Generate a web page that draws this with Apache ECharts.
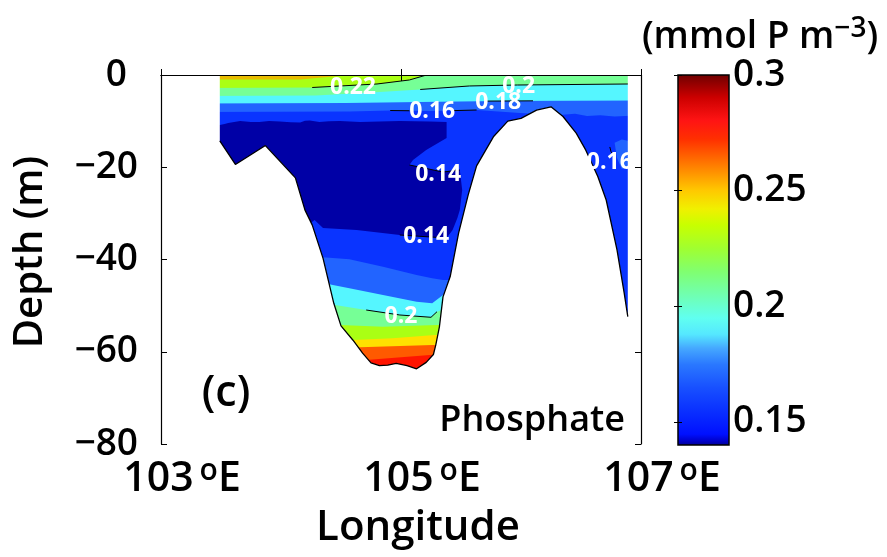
<!DOCTYPE html>
<html><head><meta charset="utf-8">
<script src="https://cdn.jsdelivr.net/npm/echarts@6/dist/echarts.min.js"></script>
<style>html,body{margin:0;padding:0;background:#fff}#c{width:887px;height:557px}</style>
</head><body><div id="c"></div>
<script>
// ---------- data (longitude °E, depth m) ----------
const xTickValues = [103, 105, 107];
const yTickValues = [0, -20, -40, -60, -80];
const colorbarTicks = [0.15, 0.2, 0.25, 0.3];
const colorbarRange = [0.14, 0.30];

const bathymetry = [[103.49,0],[103.49,-14.3],[103.62,-19.4],[103.87,-15.3],[104.12,-22.3],[104.20,-29.3],[104.26,-32.5],[104.35,-39.7],[104.44,-49.5],[104.50,-54.4],[104.60,-57.5],[104.68,-60.3],[104.75,-62.4],[104.82,-63.0],[104.89,-62.9],[104.96,-62.5],[105.05,-63.0],[105.13,-63.7],[105.21,-62.3],[105.27,-60.6],[105.29,-58.5],[105.32,-54.6],[105.35,-48.1],[105.41,-43.7],[105.48,-34.3],[105.56,-26.0],[105.63,-19.7],[105.77,-13.4],[105.89,-10.0],[106.00,-9.4],[106.13,-7.6],[106.25,-6.9],[106.35,-9.0],[106.46,-12.6],[106.54,-16.3],[106.64,-22.0],[106.71,-27.1],[106.80,-37.9],[106.86,-47.3],[106.89,-52.4],[106.89,0]];

// surface contours (upper boundary of each concentration band)
const surf24 = [[103.3,-0.98],[104.16,-0.98],[104.57,0]];
const surf22 = [[103.3,-2.82],[104.26,-2.71],[104.80,-1.95],[105.07,-1.08],[105.20,0]];
const surf20 = [[103.3,-4.55],[104.29,-4.44],[104.82,-3.69],[105.16,-3.14],[105.57,-2.38],[105.97,-2.17],[107.0,-1.95]];
const surf18 = [[103.3,-6.18],[104.54,-6.07],[105.16,-5.85],[105.82,-5.64],[107.0,-5.53]];
const surf16 = [[103.3,-8.02],[104.57,-7.91],[104.91,-7.70],[105.26,-7.80],[105.63,-7.59],[105.99,-8.24],[106.32,-8.67],[106.45,-8.4],[106.55,-8.9],[106.66,-8.7],[106.78,-9.0],[107.0,-8.7]];
// low-phosphate core (< 0.14)
const core14 = [[103.3,-10.84],[103.49,-10.84],[103.53,-10.6],[103.56,-10.41],[103.66,-9.97],[103.75,-10.2],[103.82,-10.19],[103.9,-9.95],[103.99,-10.08],[104.08,-10.25],[104.16,-10.30],[104.20,-9.9],[104.24,-9.86],[104.32,-10.19],[104.40,-10.0],[104.49,-9.97],[104.66,-10.19],[104.82,-10.08],[104.99,-9.97],[105.24,-10.08],[105.38,-10.19],[105.38,-13.66],[105.21,-16.26],[105.10,-18.43],[105.07,-19.51],[105.35,-21.03],[105.49,-20.60],[105.51,-24.93],[105.49,-29.27],[105.47,-31.00],[105.43,-33.60],[105.38,-35.34],[104.99,-34.69],[104.63,-33.60],[104.35,-33.17],[104.28,-31.44],[104.2,-33],[103.3,-34]];
// deep contours (upper boundary of each band in the trough)
const deep16 = [[104.2,-39.52],[104.35,-39.52],[104.57,-39.96],[104.85,-41.56],[105.13,-43.36],[105.26,-44.08],[105.35,-44.44],[105.5,-44.44]];
const deep18 = [[104.2,-45.31],[104.39,-45.31],[104.57,-46.24],[104.85,-47.70],[105.13,-49.15],[105.26,-49.50],[105.35,-47.70],[105.5,-47.70]];
const deep20 = [[104.2,-49.86],[104.45,-49.86],[104.71,-50.95],[104.99,-52.03],[105.25,-52.53],[105.30,-51.32],[105.34,-50.95],[105.5,-50.95]];
const deep22 = [[104.2,-54.20],[104.49,-54.20],[104.85,-54.57],[105.30,-54.20],[105.5,-54.20]];
const deep24 = [[104.2,-57.45],[104.60,-57.45],[104.93,-57.08],[105.28,-56.37],[105.5,-56.37]];
const deep26 = [[104.2,-59.03],[104.66,-59.03],[105.26,-58.54],[105.5,-58.54]];
const deep28 = [[104.2,-61.79],[104.71,-61.79],[105.24,-60.70],[105.5,-60.70]];
const patch16 = [[106.78,-14.7],[106.84,-14.0],[106.90,-14.3],[106.90,-19.8],[106.84,-20.4],[106.80,-18.0]];

// drawn contour lines
const line22 = [[104.26,-2.71],[104.80,-1.95],[105.07,-1.08],[105.20,-0.1]];
const line20 = [[105.16,-3.14],[105.57,-2.38],[105.97,-2.17],[106.89,-1.95]];
const line18 = [[105.70,-5.66],[106.10,-5.60]];
const line16a = [[104.91,-7.70],[105.07,-7.75]];
const line16b = [[105.44,-7.72],[105.63,-7.59]];
const line16r = [[106.74,-15.6],[106.75,-16.6],[106.77,-17.4]];
const line14a = [[105.07,-19.51],[105.35,-21.03],[105.49,-20.60]];
const line14b = [[104.99,-34.69],[105.38,-35.34]];
const line20b = [[104.71,-50.95],[104.99,-52.03],[105.25,-52.53],[105.30,-51.32]];

// contour labels
const labelText  = ['0.22','0.2','0.18','0.16','0.14','0.14','0.2','0.16'];
const labelLon   = [104.60,105.98,105.81,105.26,105.31,105.21,105.00,106.74];
const labelDepth = [-2.6,-2.38,-5.96,-7.9,-21.6,-35.1,-52.25,-18.97];

// ---------- styles ----------
const FONT = "'Open Sans', 'Noto Sans', sans-serif";
const FW = 600;
const C = {
  navy:'#0000A6', b14:'#0A34FF', b16:'#2264FF', b18:'#55F6FF', b20:'#76FF96',
  b22:'#AAFF14', b24s:'#E8BC00', b24:'#FFE000', b26:'#FF5A00', b28:'#FF1400'
};
const colorbarStops = [
  [0.140,'#00008C'],[0.142,'#0000C8'],[0.145,'#0010FF'],[0.155,'#0A30FF'],[0.165,'#1850FF'],
  [0.175,'#2A78FF'],[0.182,'#45A8FF'],[0.188,'#55E8FF'],[0.195,'#60FFF0'],[0.205,'#70FFB0'],
  [0.215,'#80FF70'],[0.225,'#A0FF30'],[0.235,'#C8FF00'],[0.242,'#F0F000'],[0.250,'#FFC800'],
  [0.258,'#FF9000'],[0.265,'#FF6000'],[0.272,'#FF3000'],[0.280,'#FF1414'],[0.290,'#CC0000'],[0.300,'#6E0000']
];

function closeTo(contour, d) {
  const f = contour[0], l = contour[contour.length - 1];
  return contour.concat([[l[0], d], [f[0], d]]);
}
function polySeries(pts, color, z) {
  return {
    type:'custom', coordinateSystem:'cartesian2d', xAxisIndex:0, yAxisIndex:0, clip:true, z:z, silent:true,
    data:[pts[0]],
    renderItem:(params, api) => ({ type:'polygon', shape:{ points: pts.map(p => api.coord(p)) }, style:{ fill: color } })
  };
}
function lineSeries(pts, z) {
  return { type:'line', xAxisIndex:0, yAxisIndex:0, data:pts, symbol:'none', silent:true, clip:true, z:z,
    lineStyle:{ color:'#000', width:1 } };
}

const fullRect = [[103,1],[107,1],[107,-80],[103,-80]];
const mask = [[103,1]].concat(bathymetry, [[107,0],[107,1],[107,-80],[103,-80]]);
const seafloorLine = bathymetry.slice(1, bathymetry.length - 1);

const series = [
  polySeries(fullRect, C.b14, 1),
  polySeries(closeTo(surf16, 1), C.b16, 2),
  polySeries(closeTo(surf18, 1), C.b18, 3),
  polySeries(closeTo(surf20, 1), C.b20, 4),
  polySeries(closeTo(surf22, 1), C.b22, 5),
  polySeries(closeTo(surf24, 1), C.b24s, 6),
  polySeries(closeTo(deep16, -75), C.b16, 2),
  polySeries(closeTo(deep18, -75), C.b18, 3),
  polySeries(closeTo(deep20, -75), C.b20, 4),
  polySeries(closeTo(deep22, -75), C.b22, 5),
  polySeries(closeTo(deep24, -75), C.b24, 6),
  polySeries(closeTo(deep26, -75), C.b26, 7),
  polySeries(closeTo(deep28, -75), C.b28, 8),
  polySeries(core14, C.navy, 9),
  polySeries(patch16, C.b16, 9),
  polySeries(mask, '#FFFFFF', 20),
  { type:'line', xAxisIndex:0, yAxisIndex:0, data:seafloorLine, symbol:'none', silent:true, clip:true, z:21,
    lineStyle:{ color:'#000', width:1.3 } },
  lineSeries(line22, 22), lineSeries(line20, 22), lineSeries(line18, 22), lineSeries(line16a, 22),
  lineSeries(line16b, 22), lineSeries(line16r, 22), lineSeries(line14a, 22), lineSeries(line14b, 22),
  lineSeries(line20b, 22),
  {
    type:'custom', coordinateSystem:'cartesian2d', xAxisIndex:0, yAxisIndex:0, clip:true, z:23, silent:true,
    data: labelLon.map((v, i) => [v, labelDepth[i]]),
    renderItem:(params, api) => {
      const p = api.coord([api.value(0), api.value(1)]);
      return { type:'text', x:p[0], y:p[1],
        style:{ text: labelText[params.dataIndex], fill:'#fff', fontSize:23, fontWeight:'bold', fontFamily:FONT,
          align:'center', verticalAlign:'middle' } };
    }
  },
  {
    type:'custom', coordinateSystem:'cartesian2d', xAxisIndex:2, yAxisIndex:2, z:5, silent:true,
    data:[[0, colorbarRange[1]]],
    renderItem:(params, api) => {
      const a = api.coord([0, colorbarRange[1]]), b = api.coord([1, colorbarRange[0]]);
      const span = colorbarRange[1] - colorbarRange[0];
      const stops = colorbarStops.map(s => ({ offset:(s[0] - colorbarRange[0]) / span, color:s[1] }));
      return { type:'rect', shape:{ x:a[0], y:a[1], width:b[0]-a[0], height:b[1]-a[1] },
        style:{ fill: new echarts.graphic.LinearGradient(0, 1, 0, 0, stops), stroke:'#000', lineWidth:1.5 } };
    }
  }
];

const axisLineBlack = { show:true, lineStyle:{ color:'#000', width:1.2 } };
const tickIn = { show:true, inside:true, length:6, lineStyle:{ color:'#000', width:1 } };

const option = {
  animation:false,
  backgroundColor:'#fff',
  grid:[
    { left:161, top:75, width:480, height:369 },
    { left:678, top:75, width:51, height:370 }
  ],
  xAxis:[
    { type:'value', gridIndex:0, min:103, max:107, position:'bottom', z:30,
      axisLine:axisLineBlack, splitLine:{show:false},
      axisTick:Object.assign({ customValues:xTickValues }, tickIn),
      axisLabel:{ customValues:xTickValues, margin:12, padding:[0,0,0,42],
        formatter: v => '{n|' + v + '}{g|}{s|o}{n|E}',
        rich:{
          n:{ fontSize:41, fontWeight:FW, fontFamily:FONT, color:'#000', lineHeight:46 },
          g:{ width:6 },
          s:{ fontSize:30, fontWeight:FW, fontFamily:FONT, color:'#000', lineHeight:24, verticalAlign:'top' }
        } } },
    { type:'value', gridIndex:0, min:103, max:107, position:'top', z:30,
      axisLine:axisLineBlack, splitLine:{show:false},
      axisTick:Object.assign({ customValues:xTickValues }, tickIn), axisLabel:{show:false} },
    { type:'value', gridIndex:1, min:0, max:1, show:false }
  ],
  yAxis:[
    { type:'value', gridIndex:0, min:-80, max:0, interval:20, position:'left', z:30,
      axisLine:axisLineBlack, splitLine:{show:false}, axisTick:tickIn,
      axisLabel:{ margin:23,
        formatter: v => v === 0 ? '{z|0}' : '{n|' + (v < 0 ? '\u2212' + Math.abs(v) : v) + '}',
        rich:{
          n:{ fontSize:37, fontWeight:FW, fontFamily:FONT, color:'#000' },
          z:{ fontSize:37, fontWeight:FW, fontFamily:FONT, color:'#000', padding:[0,11,0,0] }
        } } },
    { type:'value', gridIndex:0, min:-80, max:0, interval:20, position:'right', z:30,
      axisLine:axisLineBlack, splitLine:{show:false}, axisTick:tickIn, axisLabel:{show:false} },
    { type:'value', gridIndex:1, min:colorbarRange[0], max:colorbarRange[1], position:'right', z:30,
      axisLine:{show:false}, splitLine:{show:false},
      axisTick:{ show:true, inside:true, length:4, customValues:colorbarTicks, lineStyle:{color:'#000'} },
      axisLabel:{ customValues:colorbarTicks, margin:4, fontSize:37, fontWeight:FW, fontFamily:FONT, color:'#000' } },
    { type:'value', gridIndex:1, min:colorbarRange[0], max:colorbarRange[1], position:'left', z:30,
      axisLine:{show:false}, splitLine:{show:false},
      axisTick:{ show:true, inside:true, length:4, customValues:colorbarTicks, lineStyle:{color:'#000'} },
      axisLabel:{show:false} }
  ],
  series: series,
  graphic:[
    { type:'text', x:31, y:252, rotation:Math.PI/2, z:50,
      style:{ text:'Depth (m)', fontSize:40, fontWeight:FW, fontFamily:FONT, fill:'#000', align:'center', verticalAlign:'middle' } },
    { type:'text', x:418, y:528, z:50,
      style:{ text:'Longitude', fontSize:42, fontWeight:FW, fontFamily:FONT, fill:'#000', align:'center', verticalAlign:'middle' } },
    { type:'text', x:226, y:394, z:50,
      style:{ text:'(c)', fontSize:43, fontWeight:FW, fontFamily:FONT, fill:'#000', align:'center', verticalAlign:'middle' } },
    { type:'text', x:625, y:421, z:50,
      style:{ text:'Phosphate', fontSize:36, fontWeight:FW, fontFamily:FONT, fill:'#000', align:'right', verticalAlign:'middle' } },
    { type:'text', x:760, y:37, z:50,
      style:{ text:'{a|(mmol P m}{s|\u22123}{a|)}', align:'center', verticalAlign:'middle',
        rich:{
          a:{ fontSize:37, fontWeight:FW, fontFamily:FONT, fill:'#000', lineHeight:44 },
          s:{ fontSize:28, fontWeight:FW, fontFamily:FONT, fill:'#000', lineHeight:24, verticalAlign:'top' }
        } } }
  ]
};

const chart = echarts.init(document.getElementById('c'), null, { renderer:'canvas' });
chart.setOption(option);
</script>
</body></html>
